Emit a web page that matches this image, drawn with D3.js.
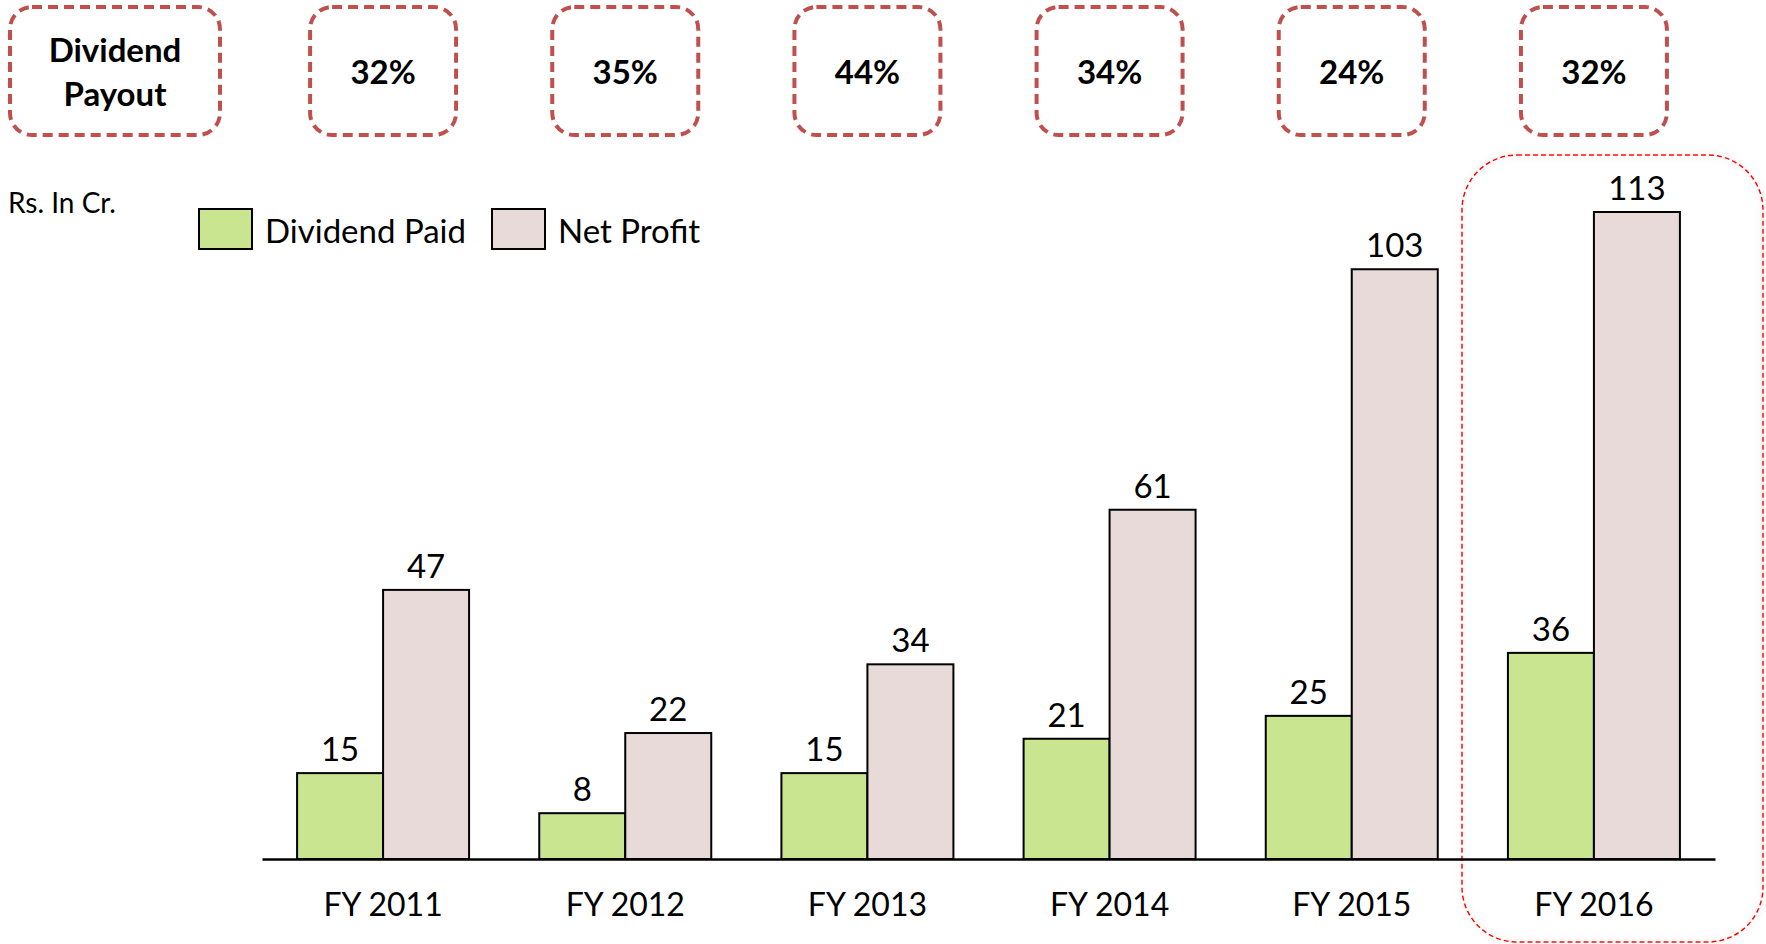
<!DOCTYPE html>
<html>
<head>
<meta charset="utf-8" />
<title>Dividend Payout</title>
<script src="https://d3js.org/d3.v7.min.js"></script>
<style>
body { margin: 0; background: #ffffff; }
svg { display: block; font-family: Lato, "Open Sans", sans-serif; }
.bar { stroke: #000; stroke-width: 2px; }
.val { font-size: 33px; fill: #000; text-anchor: middle; }
.cat { font-size: 32px; fill: #000; text-anchor: middle; }
.pct { font-size: 33px; font-weight: bold; fill: #000; text-anchor: middle; }
.box { fill: #fff; stroke: #c0504d; stroke-width: 4px; stroke-dasharray: 10 6; }
</style>
</head>
<body>
<div id="chart"></div>
<script>
/* chart values */
var years = ["FY 2011", "FY 2012", "FY 2013", "FY 2014", "FY 2015", "FY 2016"];
var series = ["Dividend Paid", "Net Profit"];
var dividendPaid = [15, 8, 15, 21, 25, 36];
var netProfit = [47, 22, 34, 61, 103, 113];
var payout = ["32%", "35%", "44%", "34%", "24%", "32%"];
var colors = ["#c9e58f", "#e9dada"];

var width = 1766, height = 944;

var svg = d3.select("#chart").append("svg")
    .attr("width", width)
    .attr("height", height);

/* soft shadow for the highlight box */
var defs = svg.append("defs");
var f = defs.append("filter").attr("id", "glow")
    .attr("x", "-10%").attr("y", "-10%").attr("width", "120%").attr("height", "120%");
f.append("feGaussianBlur").attr("in", "SourceAlpha").attr("stdDeviation", 3).attr("result", "b");
f.append("feFlood").attr("flood-color", "#999").attr("flood-opacity", 0.5);
f.append("feComposite").attr("in2", "b").attr("operator", "in").attr("result", "s");
var fm = f.append("feMerge");
fm.append("feMergeNode").attr("in", "s");
fm.append("feMergeNode").attr("in", "SourceGraphic");

/* scales */
var x0 = d3.scaleBand().domain(years).range([262, 1715]);
var x1 = d3.scaleBand().domain(series).range([0, x0.bandwidth()]).paddingOuter(0.408);
var y = d3.scaleLinear().domain([0, 113]).range([859, 212]);

var rows = years.map(function(yr, i) {
    return { year: yr, values: [dividendPaid[i], netProfit[i]] };
});

/* highlight box around the last year */
svg.append("rect")
    .attr("x", 1462).attr("y", 155)
    .attr("width", 301).attr("height", 787)
    .attr("rx", 55).attr("ry", 55)
    .attr("fill", "none")
    .attr("stroke", "#ff0000")
    .attr("stroke-width", 1.5)
    .attr("stroke-dasharray", "5 3")
    .attr("filter", "url(#glow)");

/* payout boxes on top */
svg.append("rect").attr("class", "box")
    .attr("x", 10).attr("y", 7).attr("width", 210).attr("height", 128)
    .attr("rx", 22).attr("ry", 22);
svg.append("text").attr("class", "pct").attr("x", 115).attr("y", 62).text("Dividend");
svg.append("text").attr("class", "pct").attr("x", 115).attr("y", 106).text("Payout");

var boxes = svg.append("g").selectAll("g")
    .data(payout)
    .enter().append("g")
    .attr("transform", function(d, i) { return "translate(" + (x0(years[i]) + x0.bandwidth() / 2) + ",0)"; });
boxes.append("rect").attr("class", "box")
    .attr("x", -73).attr("y", 7).attr("width", 146).attr("height", 128)
    .attr("rx", 22).attr("ry", 22);
boxes.append("text").attr("class", "pct").attr("y", 84).text(function(d) { return d; });

/* unit */
svg.append("text").attr("x", 8).attr("y", 213)
    .style("font-size", "28px").text("Rs. In Cr.");

/* legend */
var leg = svg.append("g");
var legX = [199, 492];
series.forEach(function(s, i) {
    leg.append("rect").attr("class", "bar")
        .attr("x", legX[i]).attr("y", 209).attr("width", 53).attr("height", 40)
        .attr("fill", colors[i]);
    leg.append("text").attr("x", legX[i] + 66).attr("y", 243)
        .style("font-size", "33px").text(s);
});

/* bars */
var groups = svg.append("g").selectAll("g")
    .data(rows)
    .enter().append("g")
    .attr("transform", function(d) { return "translate(" + x0(d.year) + ",0)"; });

groups.selectAll("rect")
    .data(function(d) { return d.values.map(function(v, j) { return { key: series[j], v: v, j: j }; }); })
    .enter().append("rect")
    .attr("class", "bar")
    .attr("x", function(d) { return x1(d.key); })
    .attr("y", function(d) { return y(d.v); })
    .attr("width", x1.bandwidth())
    .attr("height", function(d) { return y(0) - y(d.v); })
    .attr("fill", function(d) { return colors[d.j]; });

groups.selectAll("text")
    .data(function(d) { return d.values.map(function(v, j) { return { key: series[j], v: v }; }); })
    .enter().append("text")
    .attr("class", "val")
    .attr("x", function(d) { return x1(d.key) + x1.bandwidth() / 2; })
    .attr("y", function(d) { return y(d.v) - 12; })
    .text(function(d) { return d.v; });

/* x axis */
var axis = svg.append("g")
    .attr("transform", "translate(0," + y(0) + ")")
    .call(d3.axisBottom(x0).tickSize(0).tickPadding(0));
axis.select(".domain").attr("stroke", "#000").attr("stroke-width", 2.5);
axis.selectAll(".tick text").attr("class", "cat")
    .attr("dy", null).attr("y", 57)
    .style("font-size", "32px").style("font-family", "Lato, sans-serif");
</script>
</body>
</html>
